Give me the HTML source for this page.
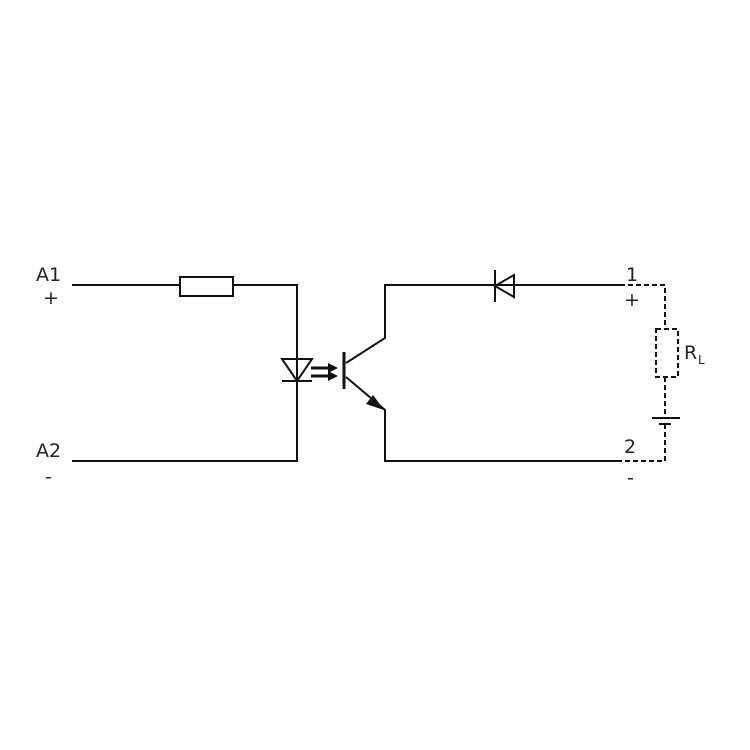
<!DOCTYPE html>
<html><head><style>body{margin:0;background:#fff}svg{display:block}text{font-family:"DejaVu Sans",sans-serif;fill:#222}</style></head><body>
<svg width="750" height="750" viewBox="0 0 750 750">
<g stroke="#111" stroke-width="2" fill="none">
<path d="M72 285H180M233 285H297V461H72"/>
<rect x="180" y="277" width="53" height="19"/>
<path d="M282 359H312L297 381Z"/>
<path d="M282 381H312"/>
<path d="M311 368H330M311 376H330" stroke-width="3"/>
<path d="M344 352V389" stroke-width="3"/>
<path d="M346 363L385 338V285H620"/>
<path d="M346 377L385 410V461H620"/>
<path d="M495 270V302"/>
<path d="M495 286L514 275V297Z"/>
</g>
<g fill="#111">
<path d="M338 368L328 363V373Z"/><path d="M338 376L328 371V381Z"/>
<path d="M384 410L373 395L366 404Z"/>
</g>
<g stroke="#111" stroke-width="2" fill="none" stroke-dasharray="5 3">
<path d="M620 285H665V329"/>
<rect x="656" y="329" width="22" height="48"/>
<path d="M665 377V418M665 424V461H620"/>
</g>
<g stroke="#111" stroke-width="2"><path d="M652 418H680M659 424H671"/></g>
<g font-size="19">
<text x="36" y="281">A1</text><text x="43" y="304">+</text>
<text x="36" y="457">A2</text><text x="45" y="483">-</text>
<text x="626" y="281">1</text><text x="624" y="306">+</text>
<text x="624" y="453">2</text><text x="627" y="484">-</text>
<text x="684" y="359">R</text><text x="698" y="364" font-size="12">L</text>
</g>
</svg></body></html>
